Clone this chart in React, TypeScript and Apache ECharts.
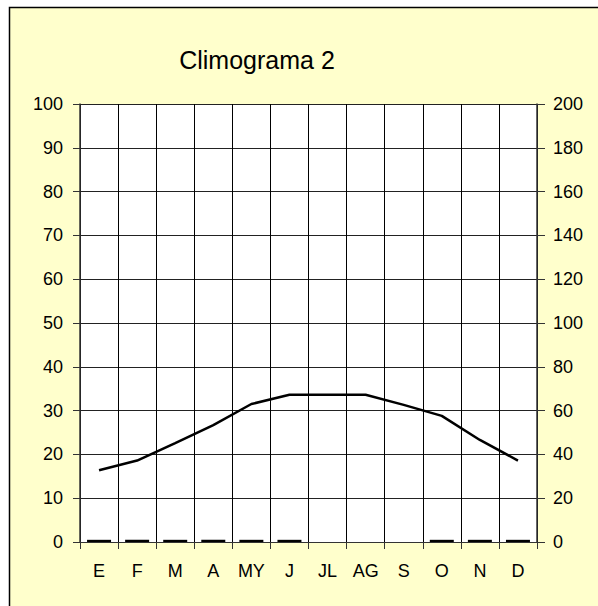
import React, { useEffect, useRef } from "react";
import * as echarts from "echarts";

const months = ["E", "F", "M", "A", "MY", "J", "JL", "AG", "S", "O", "N", "D"];
const temperature = [16.4, 18.6, 22.6, 26.7, 31.5, 33.6, 33.6, 33.6, 31.3, 28.8, 23.3, 18.6];
const precipitation = [1, 1, 1, 1, 1, 1, 0, 0, 0, 1, 1, 1];
const titleText = "Climograma 2";

const FONT = "'Liberation Sans', Arial, sans-serif";
const GRID = { left: 80, right: 61, top: 104, bottom: 64 };

export default function App() {
  const ref = useRef<HTMLDivElement>(null);
  useEffect(() => {
    if (!ref.current) return;
    const chart = echarts.init(ref.current, null, { renderer: "svg" });
    chart.setOption({
      animation: false,
      backgroundColor: "#ffffff",
      graphic: [
        {
          type: "rect",
          z: -10,
          silent: true,
          shape: { x: 9.5, y: 7.5, width: 640, height: 660 },
          style: { fill: "#FFFFCC", stroke: "#000000", lineWidth: 1.5 },
        },
        {
          type: "rect",
          z: -9,
          silent: true,
          shape: {
            x: GRID.left,
            y: GRID.top,
            width: 598 - GRID.left - GRID.right,
            height: 606 - GRID.top - GRID.bottom,
          },
          style: { fill: "#ffffff" },
        },
      ],
      title: {
        text: titleText,
        left: 252,
        top: 42,
        textAlign: "center",
        textStyle: { fontFamily: FONT, fontSize: 25, fontWeight: "normal", color: "#000" },
      },
      grid: { ...GRID, show: false },
      xAxis: {
        type: "category",
        data: months,
        boundaryGap: true,
        axisLine: { show: true, lineStyle: { color: "#333", width: 1 } },
        axisTick: { show: true, length: 7, lineStyle: { color: "#333" } },
        splitLine: { show: true, lineStyle: { color: "#000", width: 1 } },
        axisLabel: { fontFamily: FONT, fontSize: 18, color: "#000", margin: 20, interval: 0 },
      },
      yAxis: [
        {
          type: "value",
          min: 0,
          max: 100,
          interval: 10,
          position: "left",
          axisLine: { show: true, lineStyle: { color: "#333", width: 1.5 } },
          axisTick: { show: true, length: 7, lineStyle: { color: "#333" } },
          splitLine: { show: true, lineStyle: { color: "#222", width: 1 } },
          axisLabel: { fontFamily: FONT, fontSize: 18, color: "#000", margin: 17 },
        },
        {
          type: "value",
          min: 0,
          max: 200,
          interval: 20,
          position: "right",
          axisLine: { show: true, lineStyle: { color: "#333", width: 1.5 } },
          axisTick: { show: true, length: 8, lineStyle: { color: "#333" } },
          splitLine: { show: false },
          axisLabel: { fontFamily: FONT, fontSize: 18, color: "#000", margin: 16 },
        },
      ],
      series: [
        {
          type: "bar",
          yAxisIndex: 1,
          data: precipitation,
          barWidth: "63%",
          itemStyle: { color: "#000" },
          z: 3,
        },
        {
          type: "line",
          yAxisIndex: 0,
          data: temperature,
          symbol: "none",
          lineStyle: { color: "#000", width: 2.5 },
          z: 4,
        },
      ],
    });
    return () => chart.dispose();
  }, []);
  return (
    <div
      ref={ref}
      style={{ position: "fixed", left: 0, top: 0, width: 598, height: 606 }}
    />
  );
}
